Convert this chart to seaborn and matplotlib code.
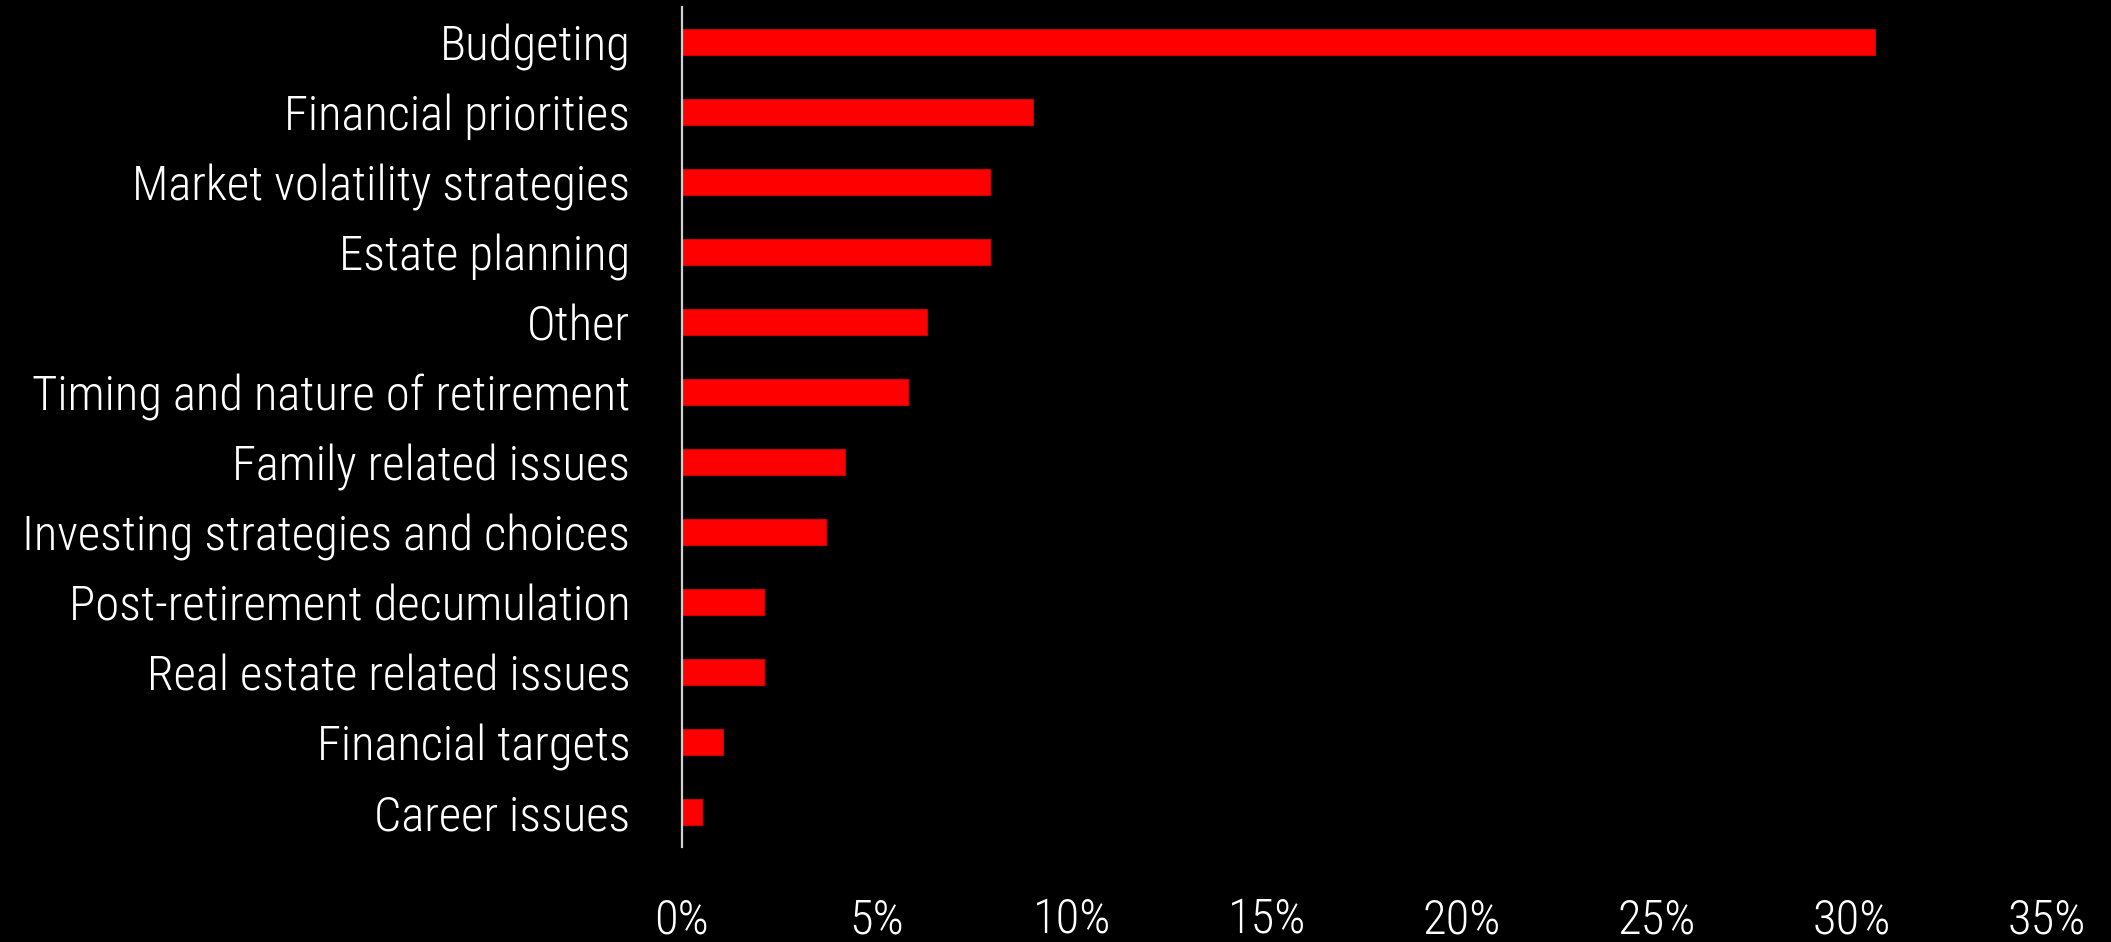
import matplotlib
matplotlib.use("Agg")
import matplotlib.pyplot as plt
import seaborn as sns
import pandas as pd
from matplotlib.ticker import FuncFormatter

categories = [
    "Budgeting",
    "Financial priorities",
    "Market volatility strategies",
    "Estate planning",
    "Other",
    "Timing and nature of retirement",
    "Family related issues",
    "Investing strategies and choices",
    "Post-retirement decumulation",
    "Real estate related issues",
    "Financial targets",
    "Career issues",
]
values = [30.6, 9.0, 7.9, 7.9, 6.3, 5.8, 4.2, 3.7, 2.1, 2.1, 1.05, 0.53]
x_ticks = [0, 5, 10, 15, 20, 25, 30, 35]

df = pd.DataFrame({"topic": categories, "share": values})

sns.set_theme(style="white")
plt.rcParams["font.family"] = ["Roboto Condensed", "DejaVu Sans"]
plt.rcParams["font.weight"] = 300

fig = plt.figure(figsize=(21.11, 9.42), dpi=100, facecolor="black")
ax = fig.add_axes([0.3229, 0.1008, 0.6466, 0.8918])
ax.set_facecolor("black")

sns.barplot(data=df, x="share", y="topic", orient="h", color="#ff0000",
            saturation=1, width=0.36, edgecolor="#cc0000", linewidth=0.8, ax=ax)

ax.set_xlim(0, 35)
ax.set_ylim(len(categories) - 0.5, -0.5)
ax.set_xticks(x_ticks)
ax.xaxis.set_major_formatter(FuncFormatter(lambda v, p: f"{v:.0f}%"))
ax.set_xlabel("")
ax.set_ylabel("")

for s in ["top", "right", "bottom"]:
    ax.spines[s].set_visible(False)
ax.spines["left"].set_color("#d0d0d0")
ax.spines["left"].set_linewidth(1.6)

ax.tick_params(axis="both", length=0, colors="white", labelsize=35)
ax.tick_params(axis="x", pad=36)
ax.tick_params(axis="y", pad=37)
for lab in ax.get_xticklabels() + ax.get_yticklabels():
    lab.set_fontweight(300)
    lab.set_color("white")

fig.savefig("out.png", dpi=100, facecolor="black")
